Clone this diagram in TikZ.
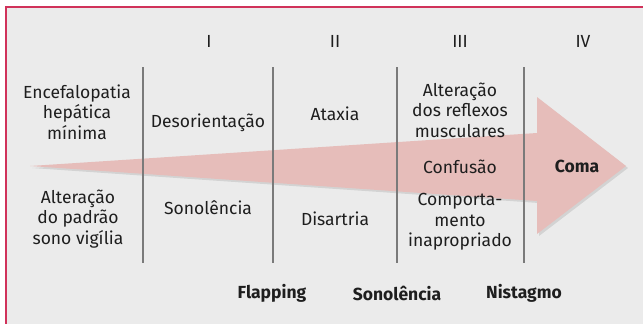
\documentclass[tikz,border=0pt]{standalone}
\usepackage{fontspec}
\setmainfont{Fira Sans}
\begin{document}
\definecolor{bg}{HTML}{EBEBEB}
\definecolor{frame}{HTML}{D0325A}
\definecolor{arrowpink}{HTML}{E6BDBA}
\definecolor{sep}{HTML}{7A7A7A}
\definecolor{ink}{HTML}{1E1E1E}
\begin{tikzpicture}[x=1pt,y=-1pt,
  lbl/.style={align=center,text=ink,font=\fontsize{17.5}{20.5}\selectfont,inner sep=0pt},
  bold/.style={lbl,font=\fontsize{17.5}{20.5}\selectfont\bfseries},
  sepline/.style={draw=sep,line width=1.1pt}]
\useasboundingbox (0,0) rectangle (643,324);
\fill[white] (0,0) rectangle (643,324);
\fill[bg] (5,7) rectangle (643,324);
\draw[frame,line width=2pt] (6,324) -- (6,7) -- (643,7);
% arrow shadow and arrow
\fill[black,opacity=0.10] (32,168) -- (539,135) -- (539,99) -- (628,168) -- (539,236) -- (539,203) -- cycle;
\fill[arrowpink] (30,166) -- (537,133) -- (537,97) -- (626,166) -- (537,234) -- (537,201) -- cycle;
% separators
\draw[sepline] (143,67) -- (143,263);
\draw[sepline] (273,67) -- (273,263);
\draw[sepline] (397,67) -- (397,263);
\draw[sepline] (524,67) -- (524,263);
% stages
\node[lbl] (s1) at (209,41) {I};
\node[lbl] (s2) at (335,41) {II};
\node[lbl] (s3) at (460,41) {III};
\node[lbl] (s4) at (583,41) {IV};
% column texts
\node[lbl] (ehm) at (77,112) {Encefalopatia\\hepática\\mínima};
\node[lbl] (apv) at (78,219) {Alteração\\do padrão\\sono vigília};
\node[lbl] (des) at (208,123) {Desorientação};
\node[lbl] (son) at (208,208) {Sonolência};
\node[lbl] (ata) at (335,114) {Ataxia};
\node[lbl] (dis) at (335,219) {Disartria};
\node[lbl] (arm) at (460,110) {Alteração\\dos reflexos\\musculares};
\node[lbl] (con) at (460,167) {Confusão};
\node[lbl] (cin) at (460,222) {Comporta-\\mento\\inapropriado};
\node[bold] (coma) at (577,166) {Coma};
% bottom signs
\node[bold] (fla) at (272,293) {Flapping};
\node[bold] (son2) at (397,293) {Sonolência};
\node[bold] (nis) at (524,293) {Nistagmo};
\end{tikzpicture}
\end{document}
